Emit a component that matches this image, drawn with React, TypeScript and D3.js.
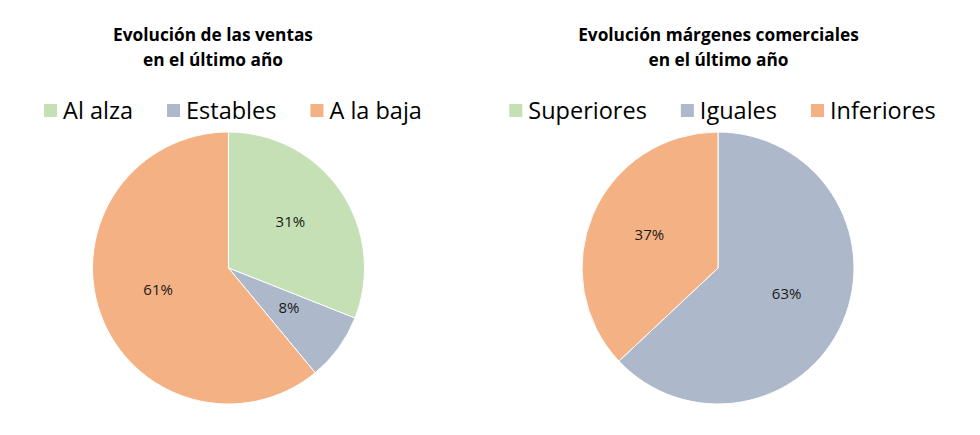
import { useEffect, useRef } from "react";
import * as d3 from "d3";

// two pie charts side by side, Excel-style
const salesLabels = ["Al alza", "Estables", "A la baja"];
const salesValues = [31, 8, 61];
const marginLabels = ["Superiores", "Iguales", "Inferiores"];
const marginValues = [0, 63, 37];
const sliceColors = ["#C5E0B4", "#ADB9CA", "#F4B183"];
const salesTitle = ["Evolución de las ventas", "en el último año"];
const marginTitle = ["Evolución márgenes comerciales", "en el último año"];

const W = 980;
const H = 435;

function drawPie(
  g: d3.Selection<SVGGElement, unknown, null, undefined>,
  cx: number,
  titleX: number,
  title: string[],
  labels: string[],
  values: number[]
) {
  const radius = 136;
  const cy = 268;

  // title
  const t = g.append("text")
    .attr("text-anchor", "middle")
    .attr("font-family", "'Open Sans', sans-serif")
    .attr("font-weight", 700)
    .attr("font-size", 17.3)
    .attr("fill", "#000");
  title.forEach((line, i) => {
    t.append("tspan").attr("x", titleX).attr("y", 41 + i * 24.5).text(line);
  });

  // legend, laid out from measured text widths and centered
  const leg = g.append("g");
  const items = labels.map((l, i) => {
    const it = leg.append("g");
    it.append("rect").attr("width", 13).attr("height", 13).attr("y", 104).attr("fill", sliceColors[i]);
    const tx = it.append("text")
      .attr("x", 19)
      .attr("y", 118.5)
      .attr("font-family", "'Open Sans', sans-serif")
      .attr("font-weight", 500)
      .attr("font-size", 23.5)
      .attr("fill", "#000")
      .text(l);
    const w = (tx.node() as SVGTextElement).getComputedTextLength();
    return { it, w: 19 + w };
  });
  const gap = 34;
  const total = d3.sum(items, (d) => d.w) + gap * (items.length - 1);
  let x = cx + 4.5 - total / 2;
  items.forEach((d) => {
    d.it.attr("transform", `translate(${x},0)`);
    x += d.w + gap;
  });

  // pie
  const pie = d3.pie<number>().sort(null)(values);
  const arc = d3.arc<d3.PieArcDatum<number>>().innerRadius(0).outerRadius(radius);
  const labelArc = d3.arc<d3.PieArcDatum<number>>().innerRadius(radius * 0.55).outerRadius(radius * 0.55);
  const pg = g.append("g").attr("transform", `translate(${cx},${cy})`);
  pg.selectAll("path")
    .data(pie)
    .join("path")
    .attr("d", arc)
    .attr("fill", (_d, i) => sliceColors[i])
    .attr("stroke", "#fff")
    .attr("stroke-width", 1);
  pg.selectAll("text")
    .data(pie.filter((d) => d.value > 0))
    .join("text")
    .attr("transform", (d) => {
      const [lx, ly] = labelArc.centroid(d);
      return `translate(${lx},${ly - 4})`;
    })
    .attr("text-anchor", "middle")
    .attr("dy", "0.35em")
    .attr("font-family", "'Open Sans', sans-serif")
    .attr("font-size", 15)
    .attr("fill", "#1a1a1a")
    .text((d) => `${d.value}%`);
}

export default function App() {
  const ref = useRef<SVGSVGElement | null>(null);

  useEffect(() => {
    if (!ref.current) return;
    const svg = d3.select(ref.current);
    svg.selectAll("*").remove();
    svg.append("rect").attr("width", W).attr("height", H).attr("fill", "#fff");
    drawPie(svg.append("g"), 228.5, 213, salesTitle, salesLabels, salesValues);
    drawPie(svg.append("g"), 718, 718.5, marginTitle, marginLabels, marginValues);
  }, []);

  return (
    <svg
      ref={ref}
      width={W}
      height={H}
      style={{ position: "absolute", left: 0, top: 0, display: "block" }}
    />
  );
}
